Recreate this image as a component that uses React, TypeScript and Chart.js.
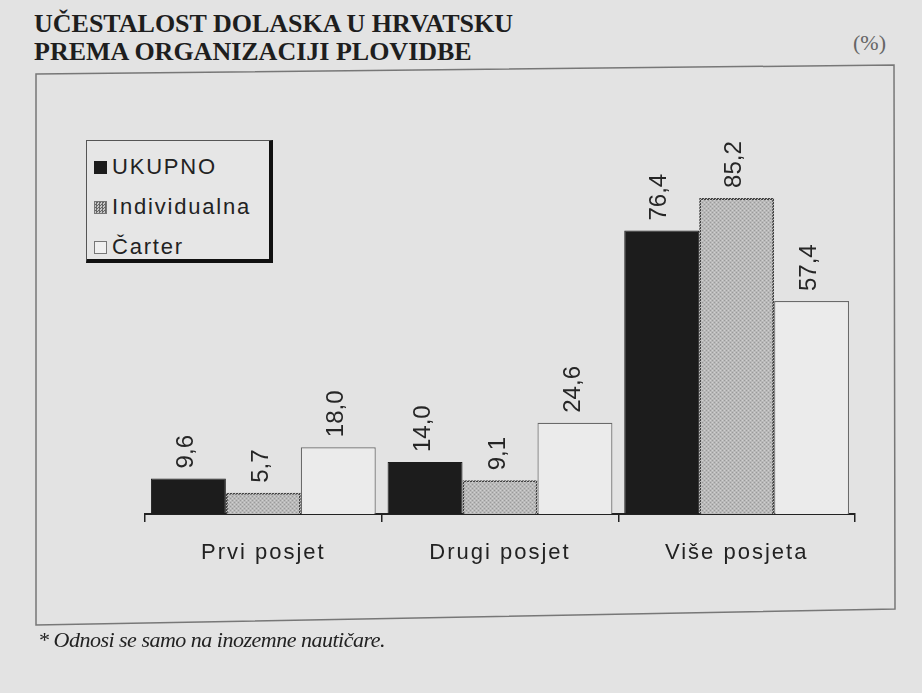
import React, { useEffect, useRef } from 'react';
import { Chart, registerables } from 'chart.js';
Chart.register(...registerables);

const titleLines = ['UČESTALOST DOLASKA U HRVATSKU', 'PREMA ORGANIZACIJI PLOVIDBE'];
const unitLabel = '(%)';
const footnote = '* Odnosi se samo na inozemne nautičare.';
const categories = ['Prvi posjet', 'Drugi posjet', 'Više posjeta'];
const seriesNames = ['UKUPNO', 'Individualna', 'Čarter'];
const ukupno = [9.6, 14.0, 76.4];
const individualna = [5.7, 9.1, 85.2];
const carter = [18.0, 24.6, 57.4];

const BG = '#e3e3e3';
const SANS = '"Liberation Sans", Arial, Helvetica, sans-serif';
const SERIF = '"Liberation Serif", "Times New Roman", serif';

function makePattern(w: number, h: number, draw: (c: CanvasRenderingContext2D) => void) {
  const c = document.createElement('canvas');
  c.width = w; c.height = h;
  const x = c.getContext('2d')!;
  draw(x);
  return x.createPattern(c, 'repeat')!;
}

const spacingPlugin = {
  id: 'tickSpacing',
  beforeDraw(chart: any) { (chart.ctx as any).letterSpacing = '2px'; },
  afterDraw(chart: any) { (chart.ctx as any).letterSpacing = '0px'; },
};

const labelPlugin = {
  id: 'rotLabels',
  afterDatasetsDraw(chart: any) {
    const ctx = chart.ctx;
    chart.data.datasets.forEach((ds: any, i: number) => {
      const meta = chart.getDatasetMeta(i);
      meta.data.forEach((bar: any, j: number) => {
        const v = ds.data[j] as number;
        const txt = v.toFixed(1).replace('.', ',');
        ctx.save();
        (ctx as any).letterSpacing = '0px';
        ctx.translate(bar.x - 2, bar.y - 10);
        ctx.rotate(-Math.PI / 2);
        ctx.font = `24px ${SANS}`;
        ctx.fillStyle = '#262626';
        ctx.textAlign = 'left';
        ctx.textBaseline = 'middle';
        ctx.fillText(txt, 0, 0);
        ctx.restore();
      });
    });
  },
};

function ChartCanvas() {
  const ref = useRef<HTMLCanvasElement>(null);
  useEffect(() => {
    const grayFill = makePattern(4, 4, (x) => {
      x.fillStyle = '#b9b9b9';
      x.fillRect(0, 0, 4, 4);
      x.fillStyle = '#9a9a9a';
      x.fillRect(0, 0, 1, 1);
      x.fillRect(2, 2, 1, 1);
      x.fillStyle = '#d0d0d0';
      x.fillRect(2, 0, 1, 1);
      x.fillRect(0, 2, 1, 1);
    });
    const dotted = makePattern(3, 3, (x) => {
      x.fillStyle = '#444';
      x.fillRect(0, 0, 3, 3);
      x.fillStyle = '#bbbbbb';
      x.fillRect(1, 1, 1, 1);
      x.fillRect(2, 0, 1, 1);
      x.fillRect(0, 2, 1, 1);
    });
    const chart = new Chart(ref.current!, {
      type: 'bar',
      data: {
        labels: categories,
        datasets: [
          { label: seriesNames[0], data: ukupno, backgroundColor: '#1c1c1c', borderColor: '#1c1c1c', borderWidth: 1 },
          { label: seriesNames[1], data: individualna, backgroundColor: grayFill, borderColor: dotted, borderWidth: 2 },
          { label: seriesNames[2], data: carter, backgroundColor: '#ebebeb', borderColor: '#6a6a6a', borderWidth: 1.2 },
        ],
      },
      options: {
        animation: false,
        responsive: false,
        maintainAspectRatio: false,
        layout: { padding: { left: 145, right: 67, top: 143, bottom: 119 } },
        datasets: { bar: { categoryPercentage: 0.95, barPercentage: 1 } },
        plugins: { legend: { display: false }, tooltip: { enabled: false }, title: { display: false } },
        scales: {
          x: {
            offset: true,
            afterFit: (s: any) => { s.height = 60; },
            grid: { offset: true, display: true, drawOnChartArea: false, drawTicks: true, tickLength: 8, color: '#222', lineWidth: 1.5 },
            border: { display: true, color: '#222', width: 2 },
            ticks: { color: '#222', padding: 18, font: { family: SANS, size: 22 } },
          },
          y: { display: false, min: 0, max: 100 },
        },
      },
      plugins: [spacingPlugin, labelPlugin],
    } as any);
    return () => chart.destroy();
  }, []);
  return <canvas ref={ref} width={922} height={693} style={{ position: 'absolute', left: 0, top: 0, width: 922, height: 693 }} />;
}

const swatch = (i: number) => {
  const base: React.CSSProperties = { display: 'inline-block', width: 13, height: 13, marginRight: 5, boxSizing: 'border-box', flex: 'none' };
  if (i === 0) return <span style={{ ...base, background: '#1c1c1c' }} />;
  if (i === 1) return <span style={{ ...base, background: 'repeating-conic-gradient(#666 0 25%, #c8c8c8 0 50%) 0 0/3px 3px', border: '1px solid #777' }} />;
  return <span style={{ ...base, background: '#f0f0f0', border: '1px solid #777' }} />;
};

export default function App() {
  return (
    <div style={{ position: 'absolute', left: 0, top: 0, width: 922, height: 693, background: BG, overflow: 'hidden' }}>
      <div style={{ position: 'absolute', left: 34, top: 10, fontFamily: SERIF, fontWeight: 'bold', fontSize: 26, lineHeight: '28px', color: '#1e1e1e' }}>
        {titleLines.map((t, i) => <div key={i}>{t}</div>)}
      </div>
      <div style={{ position: 'absolute', left: 853, top: 30, fontFamily: SERIF, fontSize: 22, color: '#666' }}>{unitLabel}</div>
      <svg width={922} height={693} style={{ position: 'absolute', left: 0, top: 0 }}>
        <polygon points="36,74 894,65 895,609 36,625" fill="none" stroke="#777" strokeWidth={1.5} />
      </svg>
      <ChartCanvas />
      <div style={{ position: 'absolute', left: 86, top: 140, width: 187, height: 123, border: '1px solid #555', borderRight: '4px solid #111', borderBottom: '4px solid #111', background: '#e6e6e6', fontFamily: SANS, fontSize: 22, letterSpacing: 1.8, color: '#222', boxSizing: 'border-box', padding: '6px 0 0 7px' }}>
        {seriesNames.map((n, i) => (
          <div key={n} style={{ display: 'flex', alignItems: 'center', height: 40, whiteSpace: 'nowrap' }}>{swatch(i)}<span>{n}</span></div>
        ))}
      </div>
      <div style={{ position: 'absolute', left: 38, top: 627, fontFamily: SERIF, fontStyle: 'italic', fontSize: 22, color: '#222', letterSpacing: -0.5 }}>{footnote}</div>
    </div>
  );
}
